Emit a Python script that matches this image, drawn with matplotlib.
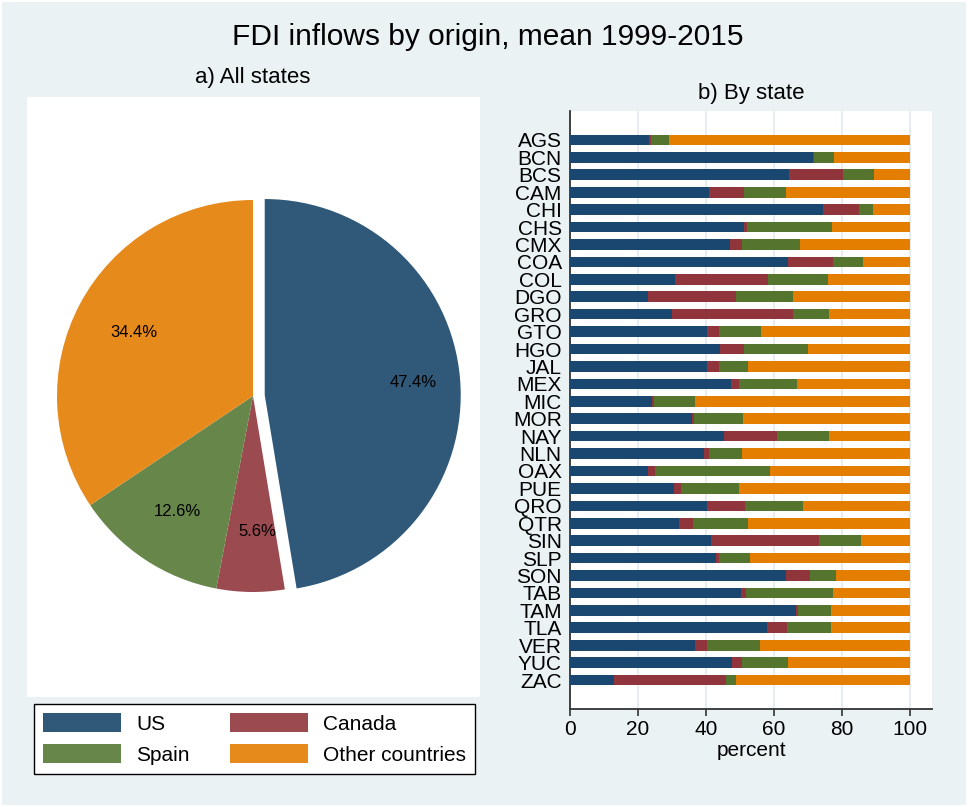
import matplotlib
matplotlib.use("Agg")
import matplotlib.pyplot as plt
from matplotlib.patches import Rectangle
import numpy as np

plt.rcParams['font.family'] = ['Liberation Sans', 'DejaVu Sans']

# ---------------- data ----------------
origins = ["US", "Canada", "Spain", "Other countries"]
pie_shares = [47.4, 5.6, 12.6, 34.4]

states = ["AGS", "BCN", "BCS", "CAM", "CHI", "CHS", "CMX", "COA", "COL", "DGO",
          "GRO", "GTO", "HGO", "JAL", "MEX", "MIC", "MOR", "NAY", "NLN", "OAX",
          "PUE", "QRO", "QTR", "SIN", "SLP", "SON", "TAB", "TAM", "TLA", "VER",
          "YUC", "ZAC"]
us     = [23.2, 71.4, 64.3, 40.8, 74.3, 51.1, 47.0, 64.1, 31.0, 22.8,
          30.1, 40.3, 44.0, 40.4, 47.2, 24.1, 35.8, 45.2, 39.4, 22.9,
          30.6, 40.3, 32.0, 41.4, 42.8, 63.5, 50.2, 66.3, 57.8, 36.8,
          47.6, 12.8]
canada = [0.6, 0.3, 16.0, 10.3, 10.7, 0.8, 3.5, 13.1, 27.2, 26.0,
          35.4, 3.6, 7.1, 3.3, 2.5, 0.5, 0.7, 15.6, 1.4, 2.1,
          2.0, 11.1, 4.1, 31.7, 1.0, 7.0, 1.6, 0.6, 6.0, 3.6,
          2.9, 33.0]
spain  = [5.3, 5.9, 8.9, 12.3, 4.0, 25.2, 17.1, 9.0, 17.7, 16.6,
          10.7, 12.1, 18.8, 8.5, 17.0, 12.0, 14.3, 15.2, 9.6, 33.7,
          17.1, 17.2, 16.2, 12.5, 9.0, 7.6, 25.4, 9.9, 12.9, 15.4,
          13.6, 3.0]
other  = [70.9, 22.4, 10.8, 36.6, 11.0, 22.9, 32.4, 13.8, 24.1, 34.6,
          23.8, 44.0, 30.1, 47.8, 33.3, 63.4, 49.2, 24.0, 49.6, 41.3,
          50.3, 31.4, 47.7, 14.4, 47.2, 21.9, 22.8, 23.2, 23.3, 44.2,
          35.9, 51.2]
xticks = [0, 20, 40, 60, 80, 100]

# ---------------- style ----------------
BG = "#EAF2F3"
bar_colors = ["#1A476F", "#90353B", "#55752F", "#E37E00"]
pie_colors = ["#2F5879", "#9B4A50", "#66864A", "#E68A1C"]

W, H = 968, 807
fig = plt.figure(figsize=(W / 100, H / 100), dpi=100, facecolor="white")
fig.patches.append(Rectangle((2 / W, 2 / H), 1 - 4 / W, 1 - 4 / H,
                             transform=fig.transFigure, facecolor=BG,
                             edgecolor="none", zorder=-10))

def fx(px):
    return px / W

def fy(py):
    return 1 - py / H

# ---------------- titles ----------------
fig.text(fx(488), fy(37), "FDI inflows by origin, mean 1999-2015",
         ha="center", va="center", fontsize=21.5)
fig.text(fx(253), fy(78), "a) All states", ha="center", va="center", fontsize=16)
fig.text(fx(751), fy(93), "b) By state", ha="center", va="center", fontsize=16)

# ---------------- pie ----------------
pl, pr, pt, pb = 27, 480, 97, 697
axp = fig.add_axes([fx(pl), fy(pb), fx(pr - pl), (pb - pt) / H])
wedges, texts, autotexts = axp.pie(
    pie_shares, colors=pie_colors, startangle=90, counterclock=False,
    explode=[0.06, 0, 0, 0], autopct="%.1f%%", pctdistance=0.69,
    wedgeprops=dict(linewidth=0), textprops=dict(fontsize=12, color="black"))
cx, cy, R = 253, 396, 196
# nudge the US label outward a little, as in the original
ux, uy = autotexts[0].get_position()
autotexts[0].set_position((ux * 1.09, uy * 1.09))
autotexts[2].set_position(tuple(np.array(autotexts[2].get_position()) * 1.02))
autotexts[1].set_position(tuple(np.array(autotexts[1].get_position()) + np.array([0.03, 0])))
axp.set_aspect("auto")
axp.set_xlim((pl - cx) / R, (pr - cx) / R)
axp.set_ylim((cy - pb) / R, (cy - pt) / R)
axp.set_frame_on(True)
for s in axp.spines.values():
    s.set_visible(False)
axp.set_facecolor("white")
axp.set_xticks([])
axp.set_yticks([])

order = [0, 2, 1, 3]  # row-wise legend: US, Canada / Spain, Other
leg = fig.legend([wedges[i] for i in order], [origins[i] for i in order],
                 loc="upper left",
                 bbox_to_anchor=(fx(34), fy(704)), bbox_transform=fig.transFigure,
                 ncol=2, fontsize=15, frameon=True, fancybox=False,
                 edgecolor="black", framealpha=1, borderaxespad=0,
                 handlelength=3.75, handleheight=1.06, handletextpad=0.75,
                 columnspacing=1.9, labelspacing=0.5, borderpad=0.42)
leg.get_frame().set_linewidth(1.0)

# ---------------- bars ----------------
bl, br, bt, bb = 570, 932, 111, 709
axb = fig.add_axes([fx(bl), fy(bb), fx(br - bl), (bb - bt) / H])
axb.set_facecolor("white")
y = np.arange(len(states))
left = np.zeros(len(states))
for vals, col in zip([us, canada, spain, other], bar_colors):
    vals = np.array(vals)
    axb.barh(y, vals, left=left, height=0.61, color=col, linewidth=0, zorder=3)
    left = left + vals

axb.set_yticks(y)
axb.set_yticklabels(states, fontsize=15)
axb.set_ylim(len(states) - 1 + 1.66, -1.66)
axb.set_xlim(0, (br - bl) / 3.403)
axb.set_xticks(xticks)
axb.set_xticklabels([str(t) for t in xticks], fontsize=15)
axb.set_xlabel("percent", fontsize=15, labelpad=1)
axb.grid(axis="x", color="#E3ECF0", linewidth=1.3, zorder=0)
axb.tick_params(axis="y", length=0, pad=6)
axb.tick_params(axis="x", length=5, width=1.2, pad=3, color="#333333")
for side in ["top", "right"]:
    axb.spines[side].set_visible(False)
for side in ["left", "bottom"]:
    axb.spines[side].set_color("#333333")
    axb.spines[side].set_linewidth(1.3)

fig.savefig("out.png", dpi=100, facecolor="white")
